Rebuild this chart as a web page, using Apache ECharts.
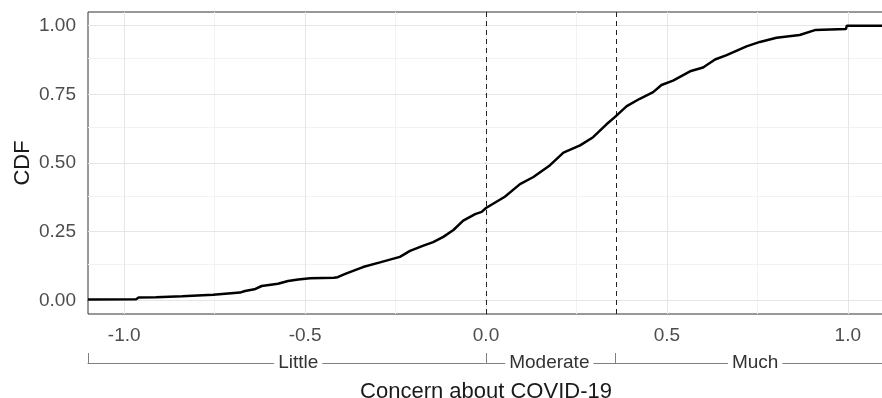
<!DOCTYPE html>
<html>
<head>
  <meta charset="UTF-8">
  <title>cdf-concern-covid</title>
  <style>
    html, body { margin: 0; padding: 0; background: #fff; }
    #myChart { width: 882px; height: 398px; }
  </style>
  <script src="https://cdn.jsdelivr.net/npm/echarts@6/dist/echarts.min.js"></script>
</head>
<body>
<div id="myChart"></div>
<script>
// ECDF of concern
var cdfX = [-1.1, -0.967, -0.96, -0.912, -0.91, -0.84, -0.837, -0.754, -0.75, -0.68,
            -0.666, -0.64, -0.62, -0.575, -0.547, -0.519, -0.486, -0.42, -0.41, -0.389,
            -0.34, -0.293, -0.238, -0.21, -0.173, -0.146, -0.118, -0.09, -0.063, -0.03,
            -0.012, 0.0, 0.052, 0.094, 0.131, 0.177, 0.214, 0.26, 0.296, 0.333,
            0.356, 0.389, 0.425, 0.462, 0.485, 0.517, 0.564, 0.6, 0.633, 0.665,
            0.72, 0.757, 0.803, 0.867, 0.909, 0.995, 0.997, 1.1];
var cdfY = [0.003, 0.004, 0.010, 0.011, 0.014, 0.015, 0.017, 0.020, 0.024, 0.028,
            0.034, 0.040, 0.052, 0.060, 0.070, 0.076, 0.080, 0.082, 0.084, 0.096,
            0.121, 0.138, 0.158, 0.180, 0.199, 0.212, 0.231, 0.256, 0.290, 0.314,
            0.322, 0.336, 0.377, 0.423, 0.449, 0.492, 0.538, 0.564, 0.594, 0.641,
            0.667, 0.707, 0.734, 0.758, 0.784, 0.800, 0.834, 0.848, 0.877, 0.893,
            0.925, 0.941, 0.956, 0.966, 0.984, 0.988, 1.0, 1.0];

var xTicks = [-1, -0.5, 0, 0.5, 1];
var xMinor = [-0.75, -0.25, 0.25, 0.75];
var yTicks = [0, 0.25, 0.5, 0.75, 1];
var yMinor = [0.125, 0.375, 0.625, 0.875];

// category cut points and bracket labels
var cutPoints = [0, 0.356];
var groupNames = ['Little', 'Moderate', 'Much'];
var groupLabelAt = [-0.519, 0.175, 0.744];

var FONT = 'Liberation Sans';
var myChart = echarts.init(document.getElementById('myChart'));

var gridLines = [];
xMinor.forEach(function (v) { gridLines.push({ xAxis: v, lineStyle: { color: '#f2f2f2' } }); });
yMinor.forEach(function (v) { gridLines.push({ yAxis: v, lineStyle: { color: '#f2f2f2' } }); });
xTicks.forEach(function (v) { gridLines.push({ xAxis: v, lineStyle: { color: '#e6e6e6' } }); });
yTicks.forEach(function (v) { gridLines.push({ yAxis: v, lineStyle: { color: '#e6e6e6' } }); });

var option = {
  animation: false,
  grid: {
    left: 88,
    top: 12,
    width: 796,
    height: 302,
    show: true,
    borderColor: '#333',
    borderWidth: 1,
    backgroundColor: '#fff',
    outerBoundsMode: 'none'
  },
  xAxis: [
    {
      type: 'value',
      min: -1.1,
      max: 1.1,
      name: 'Concern about COVID-19',
      nameLocation: 'middle',
      nameGap: 67,
      nameTextStyle: { fontSize: 22, color: '#1a1a1a', fontFamily: FONT },
      axisLine: { show: true, lineStyle: { color: '#333', width: 1 } },
      axisTick: { show: true, length: 4, customValues: xTicks, lineStyle: { color: '#333' } },
      axisLabel: {
        customValues: xTicks,
        formatter: function (v) { return v.toFixed(1); },
        fontSize: 19,
        color: '#4d4d4d',
        fontFamily: FONT,
        margin: 12
      },
      splitLine: { show: false }
    },
    {
      // bracket under the axis
      type: 'value',
      min: -1.1,
      max: 1.1,
      position: 'bottom',
      offset: 49,
      axisLine: { show: true, lineStyle: { color: '#808080', width: 1 } },
      axisTick: {
        show: true,
        inside: true,
        length: 10,
        customValues: [-1.1].concat(cutPoints),
        lineStyle: { color: '#808080' }
      },
      axisLabel: {
        customValues: groupLabelAt,
        formatter: function (v) {
          var best = 0;
          groupLabelAt.forEach(function (g, i) {
            if (Math.abs(g - v) < Math.abs(groupLabelAt[best] - v)) best = i;
          });
          return groupNames[best];
        },
        verticalAlign: 'middle',
        margin: 0,
        backgroundColor: '#fff',
        padding: [0, 4],
        fontSize: 19,
        color: '#333',
        fontFamily: FONT
      },
      splitLine: { show: false }
    }
  ],
  yAxis: {
    type: 'value',
    min: -0.05,
    max: 1.05,
    name: 'CDF',
    nameLocation: 'middle',
    nameGap: 54,
    nameMoveOverlap: false,
    nameRotate: 90,
    nameTextStyle: { fontSize: 22, color: '#1a1a1a', fontFamily: FONT },
    axisLine: { show: true, lineStyle: { color: '#333', width: 1 } },
    axisTick: { show: true, length: 4, customValues: yTicks, lineStyle: { color: '#333' } },
    axisLabel: {
      customValues: yTicks,
      formatter: function (v) { return v.toFixed(2); },
      fontSize: 19,
      color: '#4d4d4d',
      fontFamily: FONT,
      margin: 12
    },
    splitLine: { show: false }
  },
  series: [
    {
      // background grid lines
      type: 'line',
      data: [],
      silent: true,
      z: 1,
      markLine: {
        silent: true,
        z: 1,
        symbol: 'none',
        label: { show: false },
        lineStyle: { type: 'solid', width: 1 },
        data: gridLines
      }
    },
    {
      type: 'line',
      name: 'ECDF',
      data: cdfX.map(function (x, i) { return [x, cdfY[i]]; }),
      showSymbol: false,
      symbol: 'none',
      z: 4,
      lineStyle: { color: '#000', width: 2.5 },
      markLine: {
        silent: true,
        z: 3,
        symbol: 'none',
        label: { show: false },
        lineStyle: { type: [5, 4], color: '#222', width: 1 },
        data: cutPoints.map(function (v) { return { xAxis: v }; })
      }
    }
  ]
};
myChart.setOption(option);
</script>
</body>
</html>
